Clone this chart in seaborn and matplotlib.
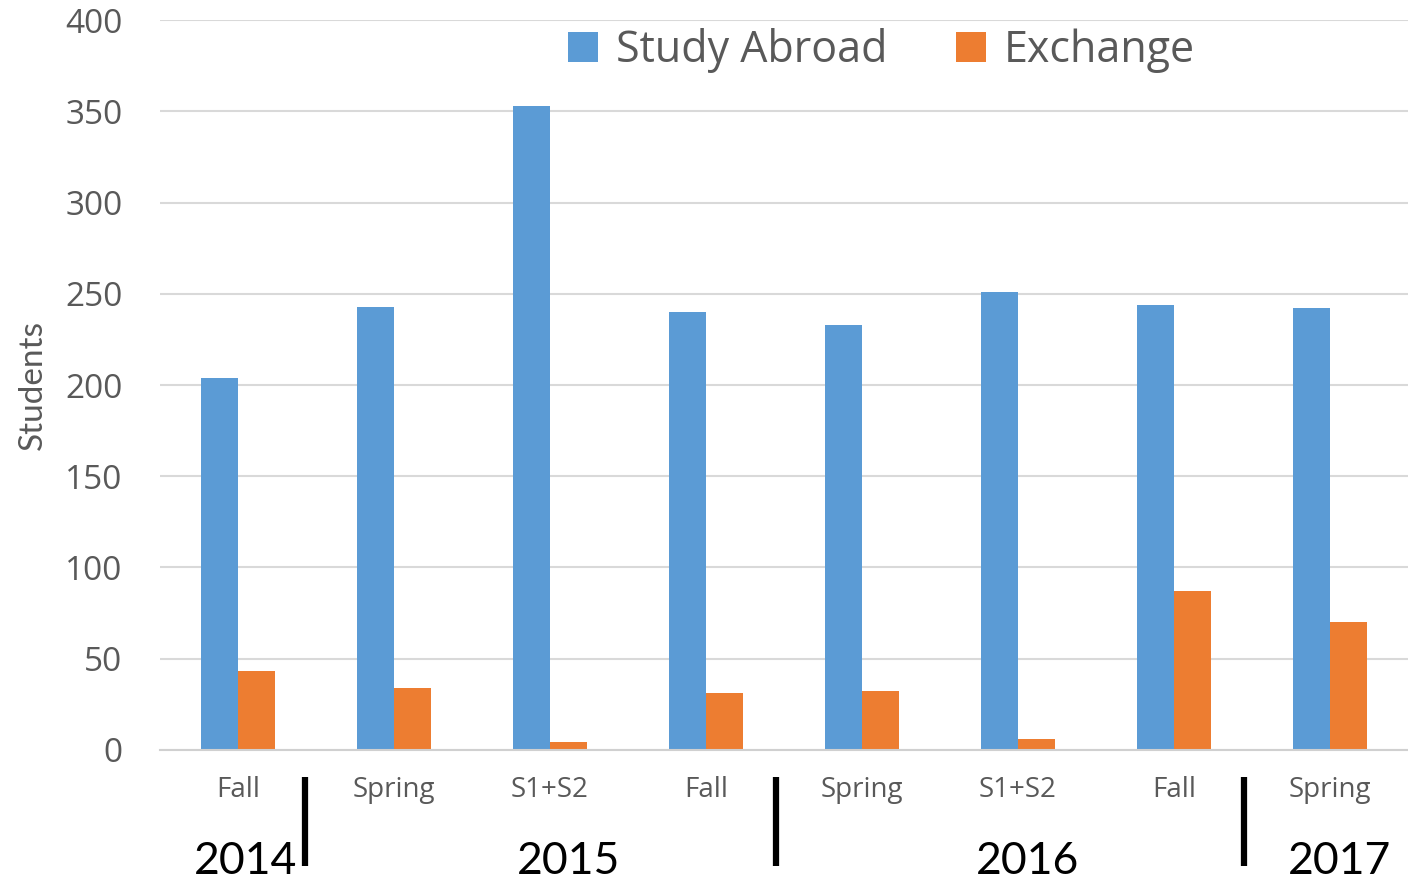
import matplotlib
matplotlib.use("Agg")
import matplotlib.pyplot as plt
import pandas as pd
import seaborn as sns

# Values
terms = ["Fall", "Spring", "S1+S2", "Fall", "Spring", "S1+S2", "Fall", "Spring"]
periods = ["Fall 2014", "Spring 2015", "S1+S2 2015", "Fall 2015",
           "Spring 2016", "S1+S2 2016", "Fall 2016", "Spring 2017"]
study_abroad = [204, 243, 353, 240, 233, 251, 244, 242]
exchange = [43, 34, 4, 31, 32, 6, 87, 70]
years = ["2014", "2015", "2016", "2017"]
year_pos = [0.05, 2.12, 5.06, 7.06]
separators = [0.43, 3.45, 6.45]

df = pd.DataFrame({
    "period": periods * 2,
    "students": study_abroad + exchange,
    "program": ["Study Abroad"] * len(periods) + ["Exchange"] * len(periods),
})

sns.set_style("white")
plt.rcParams["font.family"] = ["Open Sans", "DejaVu Sans"]

fig = plt.figure(figsize=(14.08, 8.8), dpi=100)
ax = fig.add_axes([0.1136, 0.148, 0.8864, 0.829])

sns.barplot(data=df, x="period", y="students", hue="program", order=periods,
            hue_order=["Study Abroad", "Exchange"],
            palette=["#5B9BD5", "#ED7D31"], width=0.48, saturation=1,
            errorbar=None, linewidth=0, ax=ax, legend=True)

ax.set_ylim(0, 400)
ax.set_xlim(-0.5, 7.5)
ax.set_yticks(range(0, 401, 50))
ax.yaxis.grid(True, color="#d9d9d9", linewidth=1.5)
ax.set_axisbelow(True)
for s in ["top", "right", "left"]:
    ax.spines[s].set_visible(False)
ax.spines["bottom"].set_color("#d0d0d0")
ax.spines["bottom"].set_linewidth(1.5)

ax.set_xticks(range(len(terms)), terms)
ax.tick_params(axis="x", length=0, pad=19, labelsize=20, labelcolor="#595959")
ax.tick_params(axis="y", length=0, pad=27, labelsize=24, labelcolor="#595959")
ax.set_xlabel("")
ax.set_ylabel("Students", fontsize=24, color="#595959", family=["Lato", "DejaVu Sans"])
ax.yaxis.set_label_coords(-0.09, 0.5)

# Year labels and separators below the term labels
trans = ax.get_xaxis_transform()
for x in separators:
    ax.plot([x, x], [-0.038, -0.159], color="black", linewidth=4.5,
            transform=trans, clip_on=False, solid_capstyle="butt")
for x, yr in zip(year_pos, years):
    ax.text(x, -0.17, yr, transform=trans, ha="center", va="baseline",
            fontsize=32, color="black", family=["Lato", "DejaVu Sans"])

ax.get_legend().remove()
handles, labels = ax.get_legend_handles_labels()
fig.legend(handles, labels, loc="center", bbox_to_anchor=(0.626, 0.943), ncol=2,
           frameon=False, fontsize=31, handlelength=0.7, handleheight=0.7,
           handletextpad=0.4, columnspacing=1.6, labelcolor="#595959")

fig.savefig("out.png", dpi=100)
